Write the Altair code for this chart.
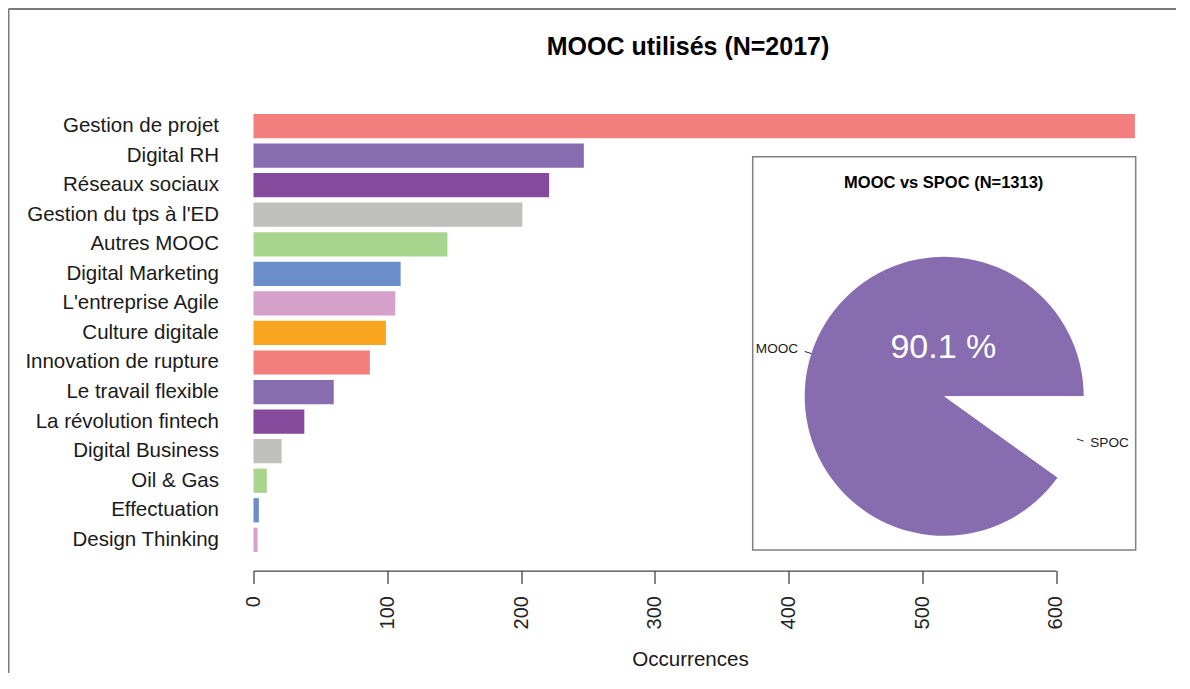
import math
import altair as alt
import pandas as pd

# ---------------- data ----------------
categories = ["Gestion de projet", "Digital RH", "Réseaux sociaux", "Gestion du tps à l'ED",
              "Autres MOOC", "Digital Marketing", "L'entreprise Agile", "Culture digitale",
              "Innovation de rupture", "Le travail flexible", "La révolution fintech",
              "Digital Business", "Oil & Gas", "Effectuation", "Design Thinking"]
occurrences = [659, 247, 221, 201, 145, 110, 106, 99, 87, 60, 38, 21, 10, 4, 3]
palette = ["#F27E7E", "#876DAF", "#854A9B", "#BFBFBD", "#A8D58E", "#6A8ECA", "#D5A0CA", "#F9A51F"]
x_ticks = [0, 100, 200, 300, 400, 500, 600]

pie_labels = ["MOOC", "SPOC"]
pie_counts = [1183, 130]
pie_colors = ["#876DAF", "#FFFFFF"]

main_title = "MOOC utilisés (N=2017)"
x_title = "Occurrences"

# ---------------- layout ----------------
FONT = "Liberation Sans"
W = 802.5          # pixels for 0..600
H = 443.3
CX, CY, R = 690.7, 285.0, 139.5   # inset pie centre / radius (pixels in plot frame)

bar_colors = [palette[i % len(palette)] for i in range(len(categories))]
one = pd.DataFrame({"k": [0]})

bars_df = pd.DataFrame({"Cours": categories, "Occurrences": occurrences})

bars = alt.Chart(bars_df).mark_bar().encode(
    y=alt.Y("Cours:N", sort=categories,
            scale=alt.Scale(paddingInner=0.18, paddingOuter=0.09),
            axis=alt.Axis(title=None, ticks=False, domain=False, labelPadding=35,
                          labelFontSize=20.5, labelFont=FONT, labelColor="#1a1a1a",
                          labelLimit=500)),
    x=alt.X("Occurrences:Q", scale=alt.Scale(domain=[0, 600], nice=False, zero=True),
            axis=alt.Axis(values=x_ticks, labelAngle=270, labelFontSize=20, labelFont=FONT,
                          labelColor="#222222", labelPadding=12, tickSize=13,
                          tickColor="#444444", tickWidth=1.3, domainColor="#444444",
                          domainWidth=1.3, offset=16, grid=False,
                          title=x_title, titleFont=FONT, titleFontSize=20.6,
                          titleFontWeight="normal", titleColor="#1a1a1a",
                          titleX=436.5, titleY=89.3, titleBaseline="middle",
                          titleAlign="center")),
    color=alt.Color("Cours:N", scale=alt.Scale(domain=categories, range=bar_colors),
                    legend=None),
)

# image frame (top and left edges)
frame_top = alt.Chart(one).mark_rule(color="#7a7a7a", strokeWidth=2).encode(
    x=alt.value(-245), x2=alt.value(940), y=alt.value(-102.3), y2=alt.value(-102.3))
frame_left = alt.Chart(one).mark_rule(color="#7a7a7a", strokeWidth=2).encode(
    x=alt.value(-245), x2=alt.value(-245), y=alt.value(-102.3), y2=alt.value(580))

# main title
title = alt.Chart(one).mark_text(
    font=FONT, fontSize=25, fontWeight="bold", color="#000000", baseline="middle",
    align="center", text=main_title).encode(x=alt.value(434.5), y=alt.value(-64.6))

# inset box
box = alt.Chart(one).mark_rect(fill="white", stroke="#808080", strokeWidth=1.5).encode(
    x=alt.value(499.2), x2=alt.value(882.2), y=alt.value(45.4), y2=alt.value(438.7))

# pie (R style: counter-clockwise from 3 o'clock)
total = sum(pie_counts)
fracs = [c / total for c in pie_counts]
a0 = math.pi / 2 + 2 * math.pi * fracs[1]
pie_df = pd.DataFrame({"Type": pie_labels, "n": pie_counts, "ord": list(range(len(pie_labels)))})
pie = alt.Chart(pie_df).mark_arc(radius=R).encode(
    theta=alt.Theta("n:Q", stack=True, scale=alt.Scale(range=[a0, a0 + 2 * math.pi])),
    color=alt.Color("Type:N", scale=alt.Scale(domain=pie_labels, range=pie_colors), legend=None),
    order=alt.Order("ord:Q"),
    x=alt.value(CX), y=alt.value(CY),
)

layers = [frame_top, frame_left, title, bars, box, pie]

# slice labels with small leader ticks
cum = 0.0
for lab, f in zip(pie_labels, fracs):
    mid = a0 + 2 * math.pi * (cum + f / 2)
    cum += f
    dx, dy = math.sin(mid), -math.cos(mid)
    layers.append(alt.Chart(one).mark_rule(color="#222222", strokeWidth=1).encode(
        x=alt.value(CX + R * dx), y=alt.value(CY + R * dy),
        x2=alt.value(CX + 1.05 * R * dx), y2=alt.value(CY + 1.05 * R * dy)))
    layers.append(alt.Chart(one).mark_text(
        font=FONT, fontSize=13.6, color="#1a1a1a", baseline="middle",
        align="left" if dx > 0 else "right", text=lab).encode(
        x=alt.value(CX + 1.1 * R * dx), y=alt.value(CY + 1.1 * R * dy)))

pie_title = alt.Chart(one).mark_text(
    font=FONT, fontSize=16.5, fontWeight="bold", color="#000000", baseline="middle",
    align="center", text=f"MOOC vs SPOC (N={total})").encode(
    x=alt.value(690.2), y=alt.value(71.7))
pct = alt.Chart(one).mark_text(
    font=FONT, fontSize=34, color="#FFFFFF", baseline="middle", align="center",
    text=f"{100 * fracs[0]:.1f} %").encode(x=alt.value(689.8), y=alt.value(237.0))
layers += [pie_title, pct]

chart = alt.layer(*layers).resolve_scale(color="independent").properties(
    width=W, height=H,
    autosize=alt.AutoSizeParams(type="none"),
    padding={"left": 245.5, "top": 103.3, "right": 120, "bottom": 118},
).configure_view(stroke=None).configure_axis(grid=False)

chart.save("out.html", embed_options={"renderer": "svg", "actions": False})
